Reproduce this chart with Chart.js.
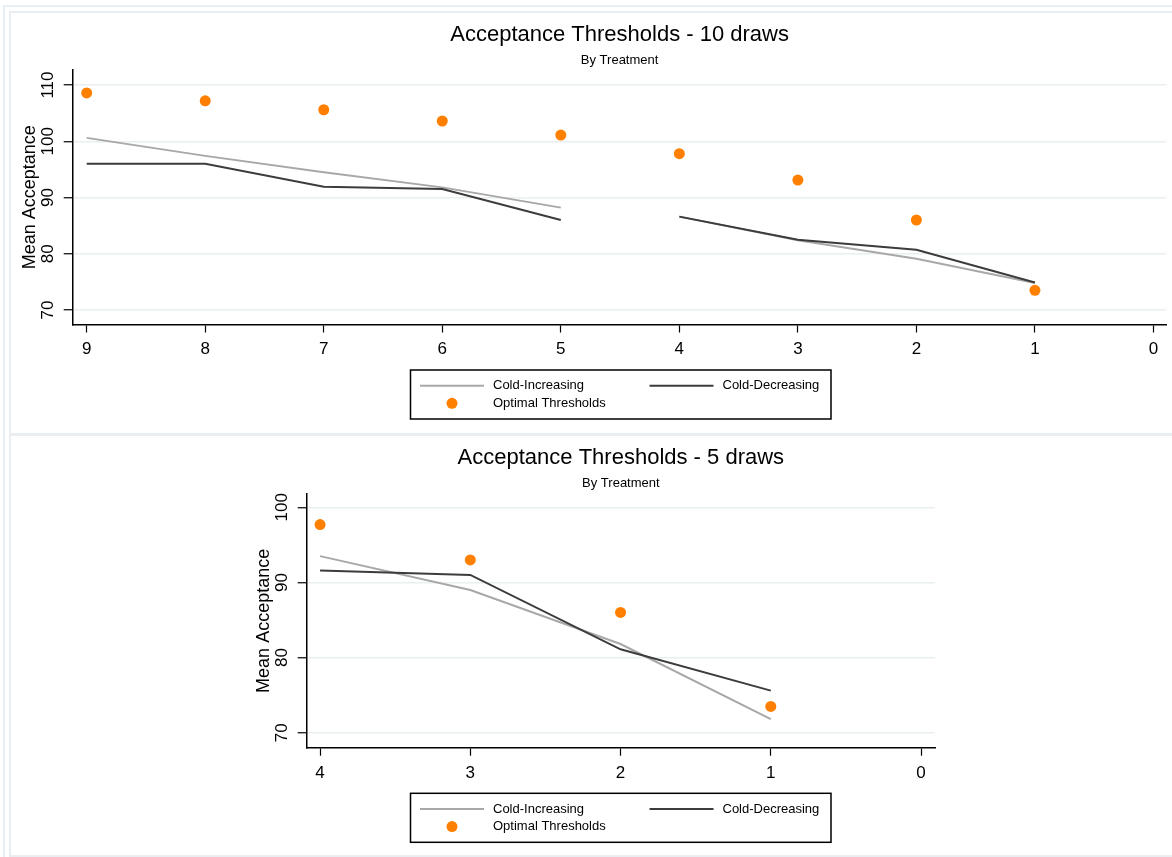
<!DOCTYPE html>
<html>
<head>
<meta charset="utf-8">
<script src="https://cdn.jsdelivr.net/npm/chart.js@4.4.1/dist/chart.umd.min.js"></script>
<style>
  html, body { margin: 0; padding: 0; background: #fff; }
  body { width: 1172px; height: 857px; position: relative; overflow: hidden; }
  .frame { position: absolute; border: 2px solid #E8EEF1; box-sizing: border-box; }
  canvas { position: absolute; left: 0; }
</style>
</head>
<body>
<div class="frame" style="left:3px; top:5px; width:1190px; height:870px;"></div>
<div class="frame" style="left:9px; top:11px; width:1190px; height:425px;"></div>
<div class="frame" style="left:9px; top:433px; width:1190px; height:424px;"></div>
<canvas id="chartTop" width="1172" height="432" style="top:0"></canvas>
<canvas id="chartBottom" width="1172" height="425" style="top:432px"></canvas>
<script>
// series labels
const seriesLabels = ["Cold-Increasing", "Cold-Decreasing", "Optimal Thresholds"];

// 10 draws
const draws10 = [9, 8, 7, 6, 5, 4, 3, 2, 1];
const coldIncreasing10 = [100.6, 97.4, 94.5, 91.8, 88.2, 86.6, 82.4, 79.1, 74.8];
const coldDecreasing10 = [96.0, 96.0, 91.9, 91.5, 86.0, 86.6, 82.5, 80.7, 74.9];
const optimal10 = [108.6, 107.2, 105.6, 103.6, 101.1, 97.8, 93.1, 86.0, 73.5];
const xTicks10 = [9, 8, 7, 6, 5, 4, 3, 2, 1, 0];
const yTicks10 = [70, 80, 90, 100, 110];

// 5 draws
const draws5 = [4, 3, 2, 1];
const coldIncreasing5 = [93.5, 89.0, 81.8, 71.8];
const coldDecreasing5 = [91.6, 91.0, 81.1, 75.6];
const optimal5 = [97.7, 93.0, 86.0, 73.5];
const xTicks5 = [4, 3, 2, 1, 0];
const yTicks5 = [70, 80, 90, 100];

const FONT = '"Liberation Sans", Arial, sans-serif';
const COLORS = ["#A8A8A8", "#3C3C3C", "#FF8000"];

function toPoints(xs, ys) {
  return xs.map((x, i) => ({ x: x, y: ys[i] }));
}

// Stata-style boxed legend under the plot
const boxLegend = {
  id: "boxLegend",
  afterDraw(chart, args, opts) {
    const ctx = chart.ctx;
    const left = opts.left, top = opts.top;
    ctx.save();
    ctx.strokeStyle = "#000";
    ctx.lineWidth = 1.5;
    ctx.strokeRect(left, top, opts.width, opts.height);
    ctx.font = "13px " + FONT;
    ctx.textBaseline = "middle";
    ctx.fillStyle = "#000";
    const slots = [[left + 9.5, top + 15.7], [left + 239, top + 15.7], [left + 9.5, top + 33.3]];
    seriesLabels.forEach((label, i) => {
      const [sx, sy] = slots[i];
      const ds = chart.data.datasets[i];
      if (ds.showLine) {
        ctx.strokeStyle = ds.borderColor;
        ctx.lineWidth = ds.borderWidth;
        ctx.beginPath();
        ctx.moveTo(sx, sy);
        ctx.lineTo(sx + 64, sy);
        ctx.stroke();
      } else {
        ctx.fillStyle = ds.pointBackgroundColor;
        ctx.beginPath();
        ctx.arc(sx + 32, sy, 5.5, 0, Math.PI * 2);
        ctx.fill();
        ctx.fillStyle = "#000";
      }
      ctx.fillText(label, sx + 73, sy);
    });
    ctx.restore();
  },
};

function makeChart(id, g) {
  const gapSegment = (c) =>
    g.gap && c.p0.parsed.x === g.gap[0] && c.p1.parsed.x === g.gap[1] ? "rgba(0,0,0,0)" : undefined;

  return new Chart(document.getElementById(id), {
    type: "scatter",
    data: {
      datasets: [
        {
          label: seriesLabels[0],
          data: toPoints(g.draws, g.inc),
          showLine: true,
          borderColor: COLORS[0],
          borderWidth: 2,
          pointRadius: 0,
          segment: { borderColor: gapSegment },
          order: 2,
        },
        {
          label: seriesLabels[1],
          data: toPoints(g.draws, g.dec),
          showLine: true,
          borderColor: COLORS[1],
          borderWidth: 2,
          pointRadius: 0,
          segment: { borderColor: gapSegment },
          order: 1,
        },
        {
          label: seriesLabels[2],
          data: toPoints(g.draws, g.opt),
          showLine: false,
          pointRadius: 5.5,
          pointBackgroundColor: COLORS[2],
          pointBorderWidth: 0,
          order: 0,
        },
      ],
    },
    options: {
      responsive: false,
      animation: false,
      layout: { padding: { left: g.padLeft, right: g.padRight, top: 0, bottom: g.padBottom } },
      plugins: {
        legend: { display: false },
        tooltip: { enabled: false },
        title: {
          display: true,
          text: g.title,
          fullSize: false,
          color: "#000",
          font: { family: FONT, size: 22, weight: "normal", lineHeight: 1.2 },
          padding: { top: g.titleTop, bottom: g.titleBottom },
        },
        subtitle: {
          display: true,
          text: "By Treatment",
          fullSize: false,
          color: "#000",
          font: { family: FONT, size: 13, weight: "normal", lineHeight: 1.2 },
          padding: { top: 0, bottom: g.subBottom },
        },
        boxLegend: { left: 410.5, top: g.legendTop, width: 420.5, height: 49 },
      },
      scales: {
        x: {
          type: "linear",
          reverse: true,
          min: g.xMin,
          max: g.xMax,
          afterBuildTicks: (s) => { s.ticks = g.xTicks.map((v) => ({ value: v })); },
          afterFit: (s) => { s.height = 40; },
          border: { color: "#000", width: 1.5 },
          grid: { drawOnChartArea: false, tickColor: "#000", tickLength: 8, tickWidth: 1.2 },
          ticks: { color: "#000", font: { family: FONT, size: 17 }, padding: 7, maxRotation: 0 },
        },
        y: {
          min: g.yMin,
          max: g.yMax,
          afterBuildTicks: (s) => { s.ticks = g.yTicks.map((v) => ({ value: v })); },
          afterFit: (s) => { s.width = 72.7; },
          border: { color: "#000", width: 1.5 },
          grid: { color: "#EAF0F2", lineWidth: 1.5, tickColor: "#000", tickLength: 9, tickWidth: 1.2 },
          ticks: {
            color: "#000",
            font: { family: FONT, size: 17 },
            minRotation: 90,
            maxRotation: 90,
            crossAlign: "center",
            padding: 1,
          },
          title: {
            display: true,
            text: "Mean Acceptance",
            color: "#000",
            font: { family: FONT, size: 18, lineHeight: 1.2 },
            padding: { top: 19.2, bottom: 0 },
          },
        },
      },
    },
    plugins: [boxLegend],
  });
}

makeChart("chartTop", {
  title: "Acceptance Thresholds - 10 draws",
  draws: draws10, inc: coldIncreasing10, dec: coldDecreasing10, opt: optimal10,
  xTicks: xTicks10, yTicks: yTicks10,
  gap: [5, 4],
  xMin: -0.11, xMax: 9.118, yMin: 67.42, yMax: 112.67,
  padLeft: 0, padRight: 4, padBottom: 67.5,
  titleTop: 22, titleBottom: 3.8, subBottom: 2.2,
  legendTop: 370,
});

makeChart("chartBottom", {
  title: "Acceptance Thresholds - 5 draws",
  draws: draws5, inc: coldIncreasing5, dec: coldDecreasing5, opt: optimal5,
  xTicks: xTicks5, yTicks: yTicks5,
  gap: null,
  xMin: -0.093, xMax: 4.089, yMin: 68.0, yMax: 101.77,
  padLeft: 234, padRight: 237, padBottom: 69.3,
  titleTop: 12.8, titleBottom: 4, subBottom: 3.2,
  legendTop: 361.3,
});
</script>
</body>
</html>
